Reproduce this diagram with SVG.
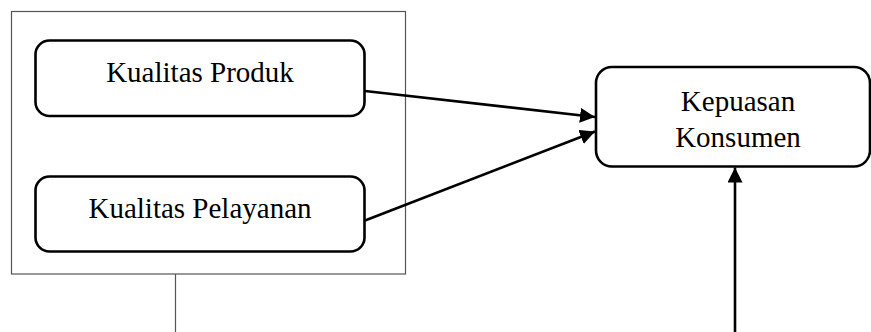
<svg xmlns="http://www.w3.org/2000/svg" width="871" height="332" viewBox="0 0 871 332">
<style>
.box{fill:#fff;stroke:#000;stroke-width:2.6}
.frame{fill:none;stroke:#555;stroke-width:1.2}
.thin{stroke:#555;stroke-width:1.2;fill:none}
.conn{stroke:#000;stroke-width:2.6;fill:none}
text{font-family:"Liberation Serif","Times New Roman",serif;font-size:29px;fill:#000;text-anchor:middle}
</style>
<defs>
<marker id="ah" markerUnits="userSpaceOnUse" markerWidth="16" markerHeight="16" refX="15" refY="7.5" orient="auto">
<path d="M0,0 L15,7.5 L0,15 Z" fill="#000"/>
</marker>
</defs>
<rect class="frame" x="11.5" y="11.5" width="394" height="262.5"/>
<line class="thin" x1="175.5" y1="274" x2="175.5" y2="332"/>
<g id="kualitas-produk">
<rect class="box" x="35.5" y="40.5" width="329" height="75.5" rx="14"/>
<text x="200" y="82">Kualitas Produk</text>
</g>
<g id="kualitas-pelayanan">
<rect class="box" x="35.5" y="176.5" width="329" height="75" rx="14"/>
<text x="200" y="218">Kualitas Pelayanan</text>
</g>
<g id="kepuasan-konsumen">
<rect class="box" x="596" y="67" width="274" height="99.5" rx="16"/>
<text x="738" y="111">Kepuasan</text>
<text x="738" y="147">Konsumen</text>
</g>
<g id="connectors">
<line class="conn" x1="365" y1="91" x2="595" y2="117" marker-end="url(#ah)"/>
<line class="conn" x1="365" y1="220.5" x2="595" y2="131.5" marker-end="url(#ah)"/>
<line class="conn" x1="735" y1="332" x2="735" y2="167.5" marker-end="url(#ah)"/>
</g>
</svg>
